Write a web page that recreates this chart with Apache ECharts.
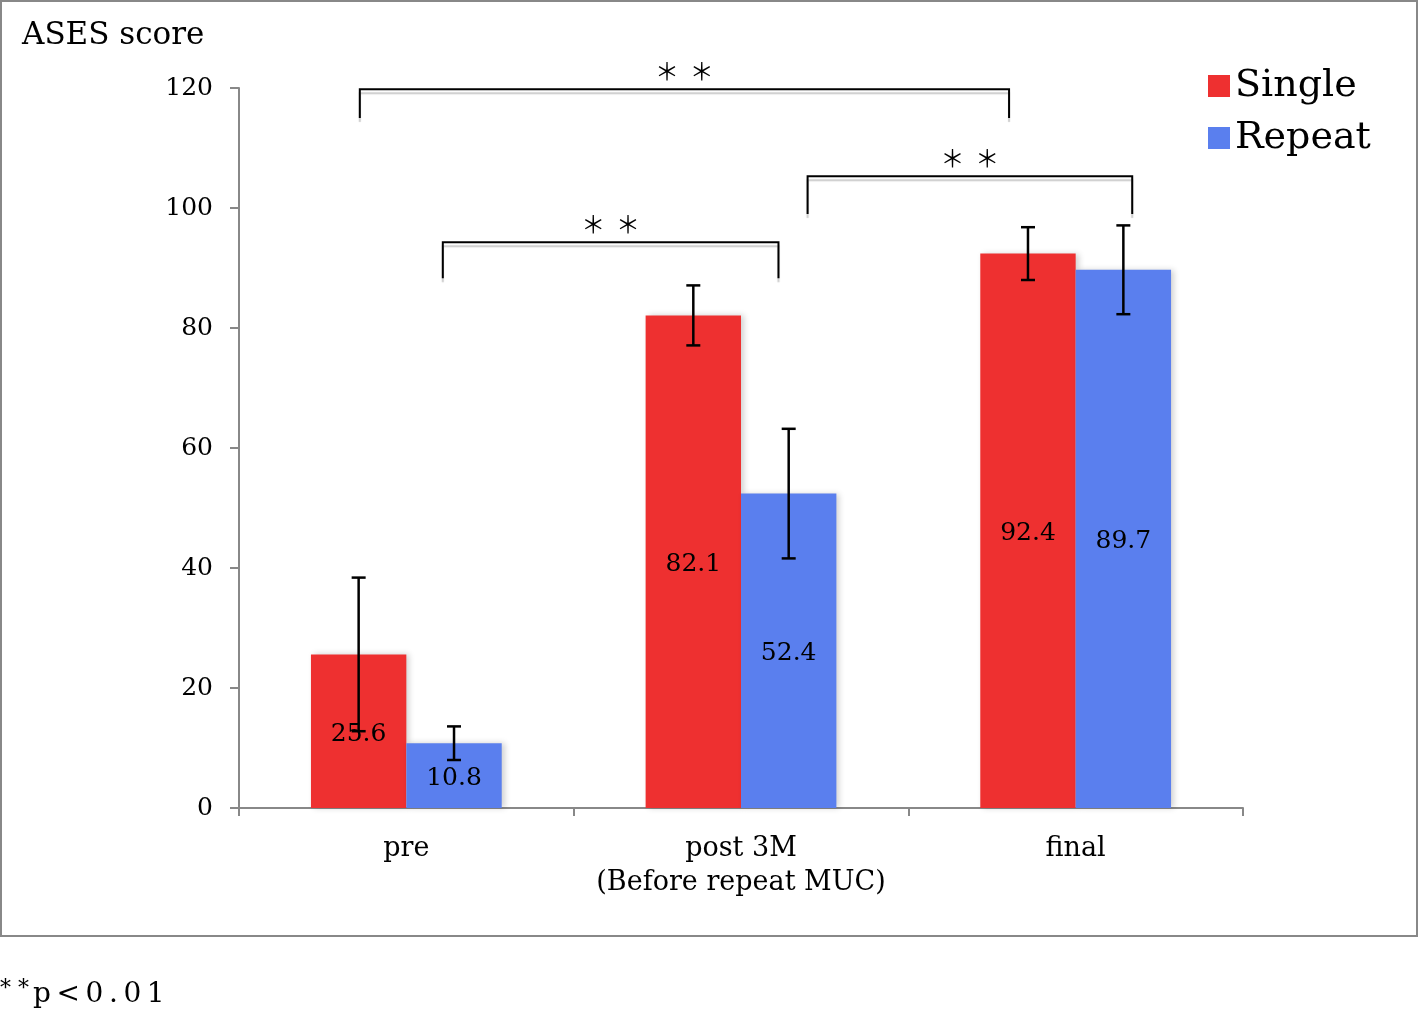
<!DOCTYPE html>
<html>
<head>
<meta charset="utf-8">
<script src="https://cdn.jsdelivr.net/npm/echarts@6/dist/echarts.min.js"></script>
<style>html,body{margin:0;padding:0;background:#fff}#c{width:1419px;height:1014px}</style>
</head>
<body>
<div id="c"></div>
<script>
var categories = ['pre', 'post 3M\n(Before repeat MUC)', 'final'];
var seriesNames = ['Single', 'Repeat'];
var singleValues = [25.6, 82.1, 92.4];
var repeatValues = [10.8, 52.4, 89.7];
var singleErr = [12.8, 5.0, 4.4];
var repeatErr = [2.8, 10.8, 7.4];
var yTicks = [0, 20, 40, 60, 80, 100, 120];
// brackets: [from (category units), to (category units), top value, end value, label]
var brackets = [
  [-0.139, 1.801, 119.8, 115.0, '＊  ＊'],
  [0.109, 1.112, 94.3, 88.3, '＊  ＊'],
  [1.199, 2.169, 105.3, 99.0, '＊  ＊']
];
var yTitle = 'ASES score';
var footnote = 'p<0.01';

var SERIF = '"DejaVu Serif", "Liberation Serif", serif';
var RED = '#EE3030';
var BLUE = '#5A7FEE';
var GAP = 0.43;

function errData(vals, errs) {
  return vals.map(function (v, i) { return [i, v - errs[i], v + errs[i]]; });
}
function errSeries(vals, errs, side) {
  return {
    type: 'custom', z: 3, silent: true, clip: false,
    encode: { x: 0, y: [1, 2] },
    data: errData(vals, errs),
    renderItem: function (params, api) {
      var bw = api.size([1, 0])[0];
      var barW = bw * (1 - GAP) / 2;
      var lo = api.coord([api.value(0), api.value(1)]);
      var hi = api.coord([api.value(0), api.value(2)]);
      var x = lo[0] + side * barW / 2;
      var cap = 7;
      var st = { stroke: '#000', lineWidth: 2.5 };
      return { type: 'group', children: [
        { type: 'line', shape: { x1: x, y1: lo[1], x2: x, y2: hi[1] }, style: st },
        { type: 'line', shape: { x1: x - cap, y1: lo[1], x2: x + cap, y2: lo[1] }, style: st },
        { type: 'line', shape: { x1: x - cap, y1: hi[1], x2: x + cap, y2: hi[1] }, style: st }
      ]};
    }
  };
}

var chart = echarts.init(document.getElementById('c'), null, { renderer: 'canvas' });
var option = {
  animation: false,
  backgroundColor: '#fff',
  grid: { left: 239, right: 176, top: 88, bottom: 206, containLabel: false },
  legend: {
    orient: 'vertical', left: 1203, top: 62,
    itemWidth: 22, itemHeight: 22, itemGap: 14, icon: 'rect',
    textStyle: { fontFamily: SERIF, fontSize: 38, color: '#000' },
    data: seriesNames
  },
  xAxis: {
    type: 'category', data: categories,
    axisLine: { lineStyle: { color: '#888', width: 2 } },
    axisTick: { show: true, interval: 0, length: 8, lineStyle: { color: '#888', width: 2 } },
    axisLabel: { interval: 0, fontFamily: SERIF, fontSize: 27, color: '#000', margin: 24, lineHeight: 34 }
  },
  yAxis: {
    type: 'value', min: 0, max: 120, interval: 20,
    axisLine: { show: true, lineStyle: { color: '#888', width: 2 } },
    axisTick: { show: true, length: 9, lineStyle: { color: '#888', width: 2 } },
    splitLine: { show: false },
    axisLabel: { fontFamily: SERIF, fontSize: 25, color: '#000', margin: 26 }
  },
  graphic: [
    { type: 'rect', shape: { x: 1, y: 1, width: 1416, height: 935 }, style: { fill: 'none', stroke: '#888', lineWidth: 2 }, z: 0 },
    { type: 'text', left: 22, top: 20, style: { text: yTitle, font: '31px ' + SERIF, fill: '#000' } },
    { type: 'text', left: 0, top: 978, style: {
        text: '{s|* *}{t|' + footnote.split('').join('\u2009') + '}',
        rich: {
          s: { fontFamily: SERIF, fontSize: 22, verticalAlign: 'top', padding: [0, 4, 12, 0], fill: '#000' },
          t: { fontFamily: SERIF, fontSize: 28, fill: '#000' }
        }, fill: '#000' } }
  ],
  series: [
    {
      name: seriesNames[0], type: 'bar', data: singleValues,
      barGap: '0%', barCategoryGap: (GAP * 100) + '%',
      itemStyle: { color: RED, shadowColor: 'rgba(0,0,0,0.18)', shadowBlur: 6, shadowOffsetX: 3 },
      label: { show: true, position: 'inside', offset: [0, 3], fontFamily: SERIF, fontSize: 25, color: '#000' },
      z: 2
    },
    {
      name: seriesNames[1], type: 'bar', data: repeatValues,
      itemStyle: { color: BLUE, shadowColor: 'rgba(0,0,0,0.18)', shadowBlur: 6, shadowOffsetX: 3 },
      label: { show: true, position: 'inside', offset: [0, 3], fontFamily: SERIF, fontSize: 25, color: '#000' },
      z: 2
    },
    errSeries(singleValues, singleErr, -1),
    errSeries(repeatValues, repeatErr, 1),
    {
      type: 'custom', z: 4, silent: true, clip: false,
      encode: { x: 0, y: 3 },
      data: brackets.map(function (b) { return [0, b[0], b[1], b[2], b[3]]; }),
      renderItem: function (params, api) {
        var bw = api.size([1, 0])[0];
        var x0 = api.coord([0, 0])[0];
        var xl = x0 + api.value(1) * bw;
        var xr = x0 + api.value(2) * bw;
        var yt = api.coord([0, api.value(3)])[1];
        var yb = api.coord([0, api.value(4)])[1];
        return { type: 'group', children: [
          { type: 'polyline', shape: { points: [[xl, yb], [xl, yt], [xr, yt], [xr, yb]] },
            style: { stroke: '#000', lineWidth: 2, fill: null, shadowColor: 'rgba(0,0,0,0.2)', shadowOffsetY: 4, shadowBlur: 1 } },
          { type: 'text', x: (xl + xr) / 2, y: yt - 6,
            style: { text: brackets[params.dataIndex][4], font: '24px "Noto Sans CJK JP"', fill: '#000', align: 'center', verticalAlign: 'bottom' } }
        ]};
      }
    }
  ]
};
chart.setOption(option);
</script>
</body>
</html>
